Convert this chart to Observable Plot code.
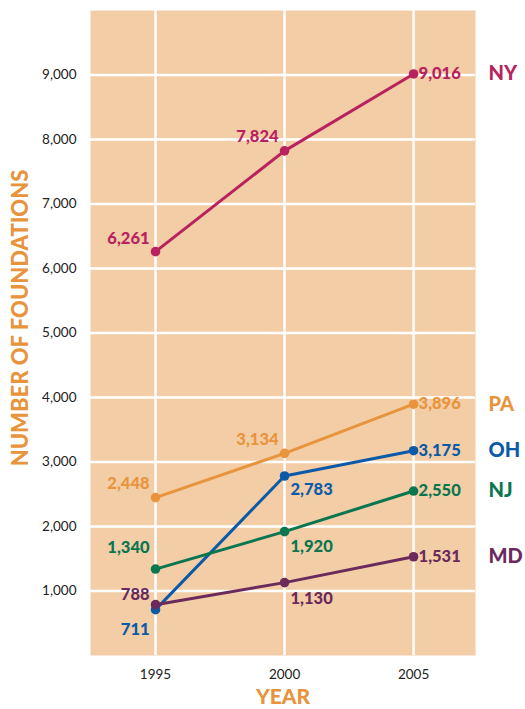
<!DOCTYPE html>
<html>
<head>
<meta charset="utf-8">
<script src="https://cdn.jsdelivr.net/npm/d3@7"></script>
<script src="https://cdn.jsdelivr.net/npm/@observablehq/plot@0.6"></script>
<style>
  html, body { margin: 0; padding: 0; background: #fff; }
  #chart svg { display: block; font-family: Lato, "Open Sans", sans-serif; }
</style>
</head>
<body>
<div id="chart"></div>
<script>
const years = [1995, 2000, 2005];
const states = ["NY", "PA", "OH", "NJ", "MD"];
const NY = [6261, 7824, 9016];
const PA = [2448, 3134, 3896];
const OH = [711, 2783, 3175];
const NJ = [1340, 1920, 2550];
const MD = [788, 1130, 1531];
const yTicks = [1000, 2000, 3000, 4000, 5000, 6000, 7000, 8000, 9000];
const yTitle = "NUMBER OF FOUNDATIONS";
const xTitle = "YEAR";

const seriesValues = {NY, PA, OH, NJ, MD};
const colors = {NY: "#b8235f", PA: "#e8943c", OH: "#0b5aa8", NJ: "#0a7650", MD: "#6a2a5c"};

// label placement (style only): [dx, dy, anchor] per state per year
const place = {
  NY: [[-6, -13, "end"], [-6, -14, "end"], [5, 0, "start"]],
  PA: [[-6, -14, "end"], [-6, -14, "end"], [5, 0, "start"]],
  OH: [[-6, 20, "end"], [6, 14, "start"], [5, 0, "start"]],
  NJ: [[-6, -21, "end"], [6, 15, "start"], [5, 0, "start"]],
  MD: [[-6, -10, "end"], [6, 16, "start"], [5, 0, "start"]]
};

const rows = [];
states.forEach(s => years.forEach((y, i) => rows.push({
  state: s, year: y, value: seriesValues[s][i],
  dx: place[s][i][0], dy: place[s][i][1], anchor: place[s][i][2]
})));
const last = rows.filter(d => d.year === 2005);
const fmt = d3.format(",");

const textMarks = rows.map(r => Plot.text([r], {
  x: "year", y: "value", text: d => fmt(d.value),
  dx: r.dx, dy: r.dy, textAnchor: r.anchor,
  fill: colors[r.state], fontSize: 16.5, fontWeight: 900, letterSpacing: 0.5
}));

const chart = Plot.plot({
  width: 525,
  height: 709,
  marginTop: 10,
  marginRight: 50,
  marginBottom: 54,
  marginLeft: 90,
  style: {background: "#fff", fontFamily: "Lato, 'Open Sans', sans-serif"},
  x: {domain: [1992.48, 2007.4]},
  y: {domain: [0, 10000]},
  marks: [
    Plot.frame({fill: "#f2cda6", stroke: null}),
    Plot.ruleX(years, {stroke: "#fff", strokeWidth: 2.5}),
    Plot.ruleY(yTicks, {stroke: "#fff", strokeWidth: 2.5}),
    Plot.axisY({ticks: yTicks, tickSize: 0, tickPadding: 14, tickFormat: fmt, fontSize: 13.5, color: "#222", label: null}),
    Plot.axisX({ticks: years, tickSize: 0, tickPadding: 14, tickFormat: d3.format("d"), fontSize: 13.5, color: "#222", label: null}),
    Plot.text([yTitle], {frameAnchor: "left", textAnchor: "middle", lineAnchor: "middle", rotate: -90, dx: -70, dy: -15,
      fill: "#e8943c", fontSize: 22, fontWeight: 900, letterSpacing: 0.8, clip: false}),
    Plot.text([xTitle], {frameAnchor: "bottom", textAnchor: "middle", lineAnchor: "middle", dy: 42,
      fill: "#e8943c", fontSize: 21, fontWeight: 900, letterSpacing: 0.8, clip: false}),
    ...states.map(s => Plot.line(rows.filter(d => d.state === s), {x: "year", y: "value", stroke: colors[s], strokeWidth: 3})),
    ...states.map(s => Plot.dot(rows.filter(d => d.state === s), {x: "year", y: "value", fill: colors[s], r: 4.8})),
    ...textMarks,
    Plot.text(last, {x: "year", y: "value", text: "state", fill: d => colors[d.state], dx: 75, textAnchor: "start",
      fontSize: 20, fontWeight: 900, letterSpacing: 1, clip: false})
  ]
});
document.getElementById("chart").appendChild(chart);
</script>
</body>
</html>
